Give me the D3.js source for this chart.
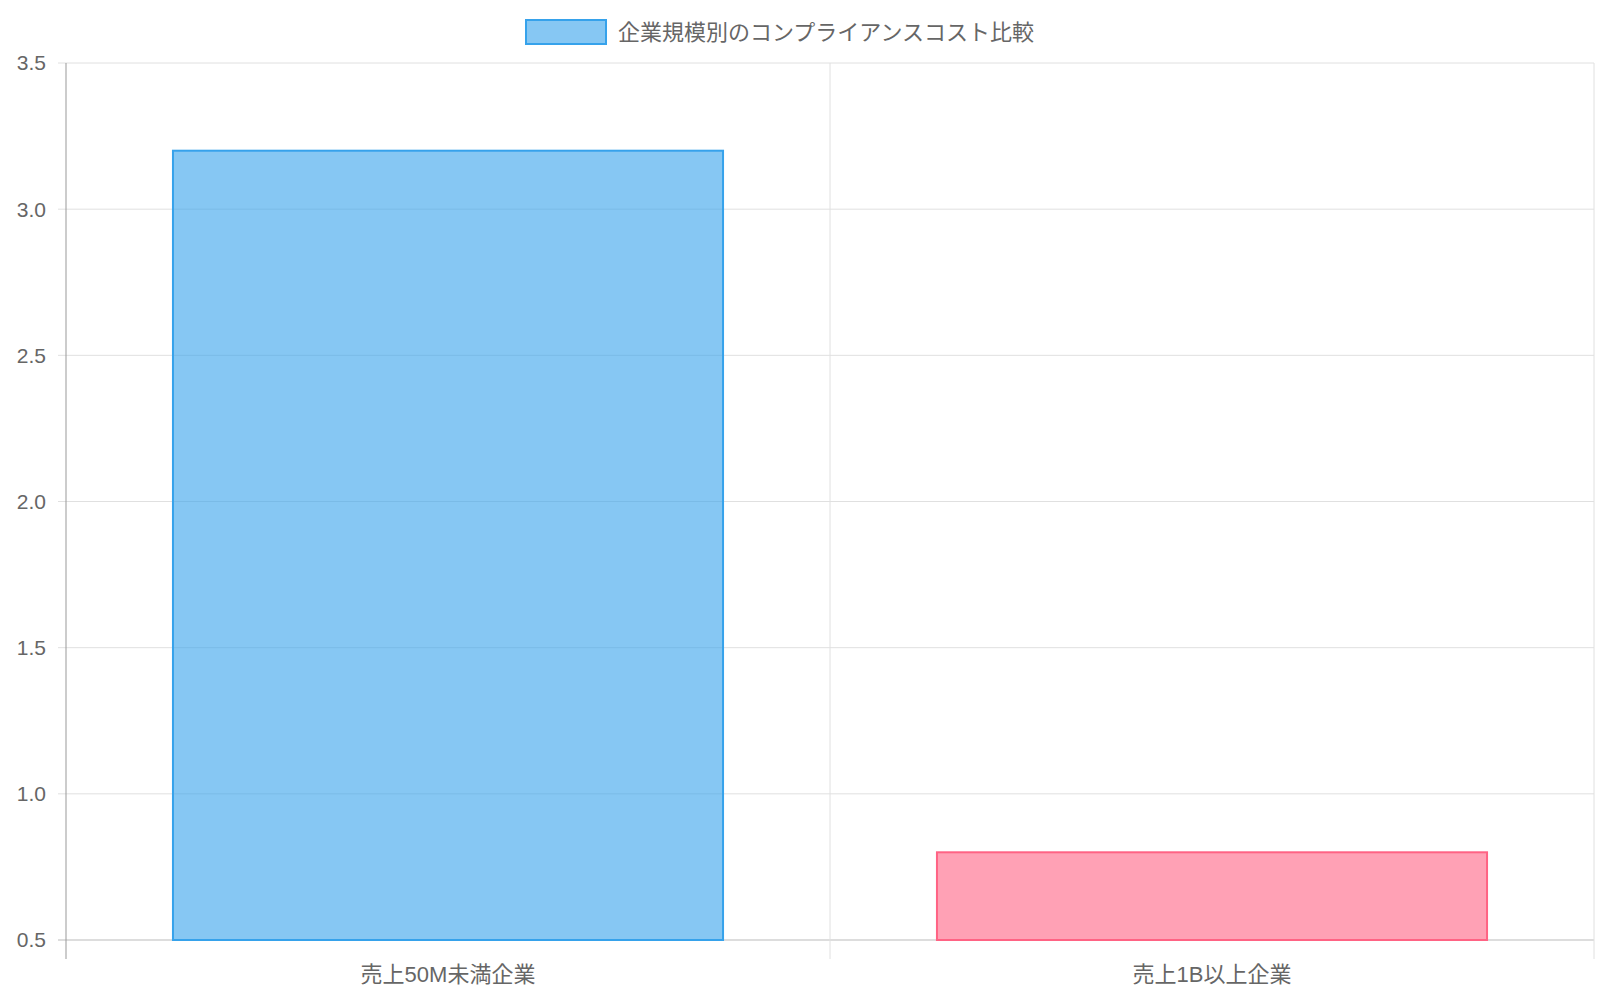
<!DOCTYPE html>
<html><head><meta charset="utf-8">
<script src="https://cdn.jsdelivr.net/npm/d3@7"></script>
<style>body{margin:0;background:#fff}text{font-family:"Liberation Sans","Noto Sans CJK JP",sans-serif;fill:#666}</style>
</head><body>
<svg id="c" width="1600" height="1000"></svg>
<script>
var categories = ["売上50M未満企業", "売上1B以上企業"]
var values = [3.2, 0.8]
var fills = ["rgba(54,162,235,0.6)", "rgba(255,99,132,0.6)"]
var strokes = ["rgb(54,162,235)", "rgb(255,99,132)"]
var yTicks = [0.5, 1.0, 1.5, 2.0, 2.5, 3.0, 3.5]
var legendLabel = "企業規模別のコンプライアンスコスト比較"

var svg = d3.select("#c")
// plot box (scaled from the 1568-wide reference to 1600)
var plotLeft = 66, plotRight = 1594, plotTop = 63, plotBottom = 940

var x = d3.scaleBand().domain(categories).range([plotLeft, plotRight])
var y = d3.scaleLinear().domain([0.5, 3.5]).range([plotBottom, plotTop])

// grid
svg.selectAll(".hg").data(yTicks).enter().append("line")
  .attr("x1", plotLeft - 8).attr("x2", plotRight)
  .attr("y1", d => y(d)).attr("y2", d => y(d))
  .attr("stroke", d => d == 0.5 ? "#bbb" : "#e0e0e0").attr("stroke-width", 1)
var vx = [plotLeft, plotLeft + x.bandwidth(), plotRight]
svg.selectAll(".vg").data(vx).enter().append("line")
  .attr("x1", d => d).attr("x2", d => d)
  .attr("y1", plotTop).attr("y2", plotBottom + 19)
  .attr("stroke", (d, i) => i == 0 ? "#999" : "#e0e0e0")

svg.selectAll(".yl").data(yTicks).enter().append("text")
  .attr("x", plotLeft - 20).attr("y", d => y(d)).attr("dy", "0.35em")
  .attr("text-anchor", "end").attr("font-size", 21)
  .text(d => d.toFixed(1))

// bars
var bw = x.bandwidth() * 0.72
svg.selectAll(".bar").data(values).enter().append("rect")
  .attr("x", (d, i) => x(categories[i]) + (x.bandwidth() - bw) / 2)
  .attr("width", bw)
  .attr("y", d => y(d)).attr("height", d => y(0.5) - y(d))
  .attr("fill", (d, i) => fills[i]).attr("stroke", (d, i) => strokes[i]).attr("stroke-width", 2)

svg.selectAll(".xl").data(categories).enter().append("text")
  .attr("x", d => x(d) + x.bandwidth() / 2).attr("y", 974).attr("dy", "0.35em")
  .attr("text-anchor", "middle").attr("font-size", 22)
  .text(d => d)

// legend
svg.append("rect").attr("x", 526).attr("y", 20).attr("width", 80).attr("height", 24)
  .attr("fill", fills[0]).attr("stroke", strokes[0]).attr("stroke-width", 2)
svg.append("text").attr("x", 618).attr("y", 32).attr("dy", "0.35em")
  .attr("font-size", 22).text(legendLabel)
</script>
</body></html>
